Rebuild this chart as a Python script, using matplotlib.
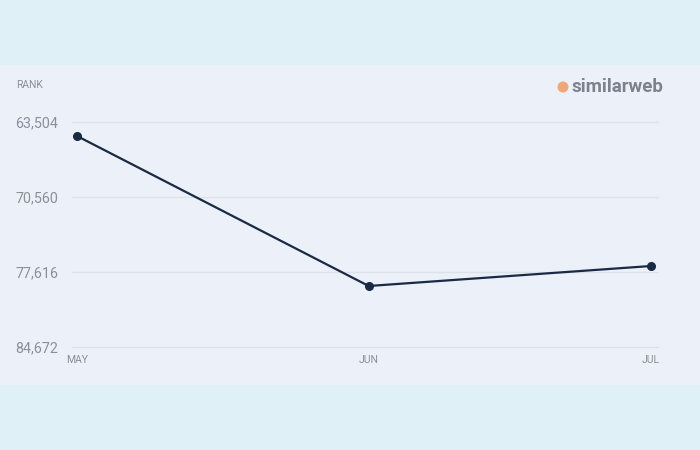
import matplotlib.pyplot as plt
from matplotlib.patches import Rectangle, Ellipse

# monthly rank (lower is better, so axis is inverted)
months = ['MAY', 'JUN', 'JUL']
day_offset = [0, 31, 61]  # days since May 1
rank = [64821, 78933, 77052]
y_ticks = [63504, 70560, 77616, 84672]

plt.rcParams['font.family'] = ['Roboto', 'DejaVu Sans']

fig = plt.figure(figsize=(7, 4.5), dpi=100)
fig.patch.set_facecolor('#dff0f7')
# lighter card behind the chart
fig.patches.append(Rectangle((0, 1 - 385 / 450), 1, 320 / 450, transform=fig.transFigure,
                             facecolor='#ebf0f9', edgecolor='none', zorder=0))

ax = fig.add_axes([72 / 700, 1 - 347 / 450, 586 / 700, 225 / 450])
ax.set_facecolor('none')
ax.set_zorder(2)

ax.plot(day_offset, rank, color='#1b2a44', linewidth=1.6, marker='o', markersize=5.5,
        clip_on=False, zorder=3)

ax.set_ylim(y_ticks[-1], y_ticks[0])
ax.set_xlim(-0.53, 61.74)
ax.set_yticks(y_ticks)
ax.set_yticklabels([f'{v:,}' for v in y_ticks])
ax.set_xticks(day_offset)
ax.set_xticklabels(months)
for g in ax.get_ygridlines():
    g.set_clip_on(False)
ax.grid(axis='y', color='#dce1ea', linewidth=1)
ax.tick_params(axis='y', length=0, pad=10, labelsize=10.3, labelcolor='#8a8f99')
ax.tick_params(axis='x', length=0, pad=6, labelsize=7.5, labelcolor='#8a8f99')
for s in ax.spines.values():
    s.set_visible(False)

fig.text(16 / 700, 1 - 85 / 450, 'RANK', fontsize=7.5, color='#8a8f99', va='center')

# similarweb logo
fig.patches.append(Ellipse((563 / 700, 1 - 87 / 450), 11 / 700, 11 / 450, transform=fig.transFigure,
                           facecolor='#f0a878', edgecolor='none', zorder=1))
fig.text(572 / 700, 1 - 87 / 450, 'similarweb', fontsize=13.5, fontweight='bold',
         color='#7d838d', va='center')

plt.savefig('out.png', dpi=100)
